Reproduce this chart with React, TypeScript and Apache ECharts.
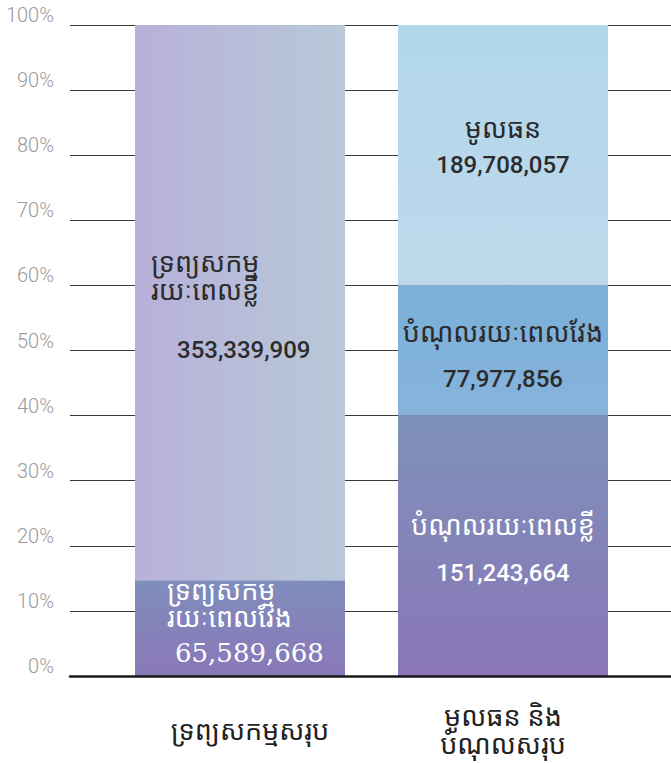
import React, { useEffect, useRef } from "react";
import * as echarts from "echarts";

const categories = ["ទ្រព្យសកម្មសរុប", "មូលធន និង\nបំណុលសរុប"];
// shares of each bar (percent)
const assetShares = [14.7, 85.3]; // long-term, short-term
const fundingShares = [40, 20, 40]; // short-term liabilities, long-term liabilities, equity
const assetNames = ["ទ្រព្យសកម្ម\nរយៈពេលវែង", "ទ្រព្យសកម្ម\nរយៈពេលខ្លី"];
const assetValues = [65589668, 353339909];
const fundingNames = ["បំណុលរយៈពេលខ្លី", "បំណុលរយៈពេលវែង", "មូលធន"];
const fundingValues = [151243664, 77977856, 189708057];
const yTicks = [0, 10, 20, 30, 40, 50, 60, 70, 80, 90, 100];

const KH = "'Noto Sans Khmer', 'Khmer OS', 'Noto Sans', Roboto, sans-serif";
const NUM = "Roboto, 'Noto Sans', sans-serif";
const KS = 27;
const fmt = (v: number) => v.toLocaleString("en-US");

const vgrad = (a: string, b: string) =>
  new echarts.graphic.LinearGradient(0, 0, 0, 1, [
    { offset: 0, color: a },
    { offset: 1, color: b },
  ]);
const hgrad = (a: string, b: string) =>
  new echarts.graphic.LinearGradient(0, 0, 1, 0, [
    { offset: 0, color: a },
    { offset: 1, color: b },
  ]);

export default function App() {
  const ref = useRef<HTMLDivElement>(null);
  useEffect(() => {
    if (!ref.current) return;
    const chart = echarts.init(ref.current, null, { renderer: "svg" });

    const s0 = [
      {
        value: assetShares[0],
        itemStyle: { color: vgrad("#7f8dbc", "#8a78b8") },
        label: {
          show: true,
          position: [32, -4],
          align: "left",
          verticalAlign: "top",
          formatter: () =>
            assetNames[0]
              .split("\n")
              .map((l) => `{k|${l}}`)
              .join("\n") + `\n{n|${fmt(assetValues[0])}}`,
          rich: {
            k: { fontFamily: KH, fontSize: KS, lineHeight: 27, color: "#ffffff" },
            n: {
              fontFamily: "'DejaVu Serif', serif",
              fontSize: 26,
              lineHeight: 46,
              color: "#ffffff",
              padding: [0, 0, 0, 8],
            },
          },
        },
      },
      {
        value: fundingShares[0],
        itemStyle: { color: vgrad("#7e91b9", "#8a76b8") },
        label: {
          show: true,
          position: [105, 84],
          align: "center",
          verticalAlign: "top",
          formatter: () => `{k|${fundingNames[0]}}\n{n|${fmt(fundingValues[0])}}`,
          rich: {
            k: { fontFamily: KH, fontSize: KS, lineHeight: 49, color: "#ffffff" },
            n: { fontFamily: NUM, fontSize: 24, fontWeight: 500, lineHeight: 49, color: "#ffffff" },
          },
        },
      },
    ];
    const s1 = [
      {
        value: assetShares[1],
        itemStyle: { color: hgrad("#b8b0da", "#b7c9d8") },
        label: {
          show: true,
          position: [16, 222],
          align: "left",
          verticalAlign: "top",
          formatter: () =>
            assetNames[1]
              .split("\n")
              .map((l) => `{k|${l}}`)
              .join("\n") + `\n{n|${fmt(assetValues[1])}}`,
          rich: {
            k: { fontFamily: KH, fontSize: KS, lineHeight: 28, color: "#2b2b2b" },
            n: {
              fontFamily: NUM,
              fontSize: 24,
              fontWeight: 500,
              lineHeight: 94,
              color: "#2b2b2b",
              padding: [0, 0, 0, 26],
            },
          },
        },
      },
      {
        value: fundingShares[1],
        itemStyle: { color: vgrad("#7ab0d9", "#86b3db") },
        label: {
          show: true,
          position: [105, 22],
          align: "center",
          verticalAlign: "top",
          formatter: () => `{k|${fundingNames[1]}}\n{n|${fmt(fundingValues[1])}}`,
          rich: {
            k: { fontFamily: KH, fontSize: KS, lineHeight: 48, color: "#2b2b2b" },
            n: { fontFamily: NUM, fontSize: 24, fontWeight: 500, lineHeight: 48, color: "#2b2b2b" },
          },
        },
      },
    ];
    const s2 = [
      "-",
      {
        value: fundingShares[2],
        itemStyle: { color: vgrad("#b1d7eb", "#bfd8eb") },
        label: {
          show: true,
          position: [105, 83],
          align: "center",
          verticalAlign: "top",
          formatter: () => `{k|${fundingNames[2]}}\n{n|${fmt(fundingValues[2])}}`,
          rich: {
            k: { fontFamily: KH, fontSize: KS, lineHeight: 38, color: "#2b2b2b" },
            n: { fontFamily: NUM, fontSize: 24, fontWeight: 500, lineHeight: 38, color: "#2b2b2b" },
          },
        },
      },
    ];

    chart.setOption({
      animation: false,
      backgroundColor: "#ffffff",
      grid: [
        { left: 108.5, width: 526, top: 25, bottom: 87 },
        { left: 70, right: 0, top: 25, bottom: 87 },
      ],
      xAxis: [
        {
          type: "category",
          gridIndex: 0,
          data: categories,
          axisLine: { show: false },
          axisTick: { show: false },
          axisLabel: {
            margin: 53,
            verticalAlign: "middle",
            formatter: (v: string, i: number) =>
              v
                .split("\n")
                .map((l) => (i === 0 ? `{a|${l}}` : `{b|${l}}`))
                .join("\n"),
            rich: {
              a: { fontFamily: KH, fontSize: KS, lineHeight: 28, color: "#222", padding: [0, 0, 0, 20] },
              b: { fontFamily: KH, fontSize: KS, lineHeight: 28, color: "#222" },
            },
          },
        },
        {
          type: "value",
          gridIndex: 1,
          min: 0,
          max: 1,
          z: 5,
          axisLine: { show: true, onZero: false, lineStyle: { color: "#1a1a1a", width: 2.5 } },
          axisTick: { show: false },
          axisLabel: { show: false },
          splitLine: { show: false },
        },
      ],
      yAxis: [
        { type: "value", gridIndex: 0, min: 0, max: 100, show: false },
        {
          type: "value",
          gridIndex: 1,
          min: 0,
          max: 100,
          interval: 10,
          axisLine: { show: false },
          axisTick: { show: false },
          splitLine: { show: true, lineStyle: { color: "#3a3a3a", width: 1 } },
          axisLabel: {
            margin: 16,
            verticalAlign: "bottom",
            fontFamily: NUM,
            fontSize: 20,
            fontWeight: 300,
            color: "#9a9a9a",
            formatter: (v: number) => (yTicks.includes(v) ? `${v}%` : ""),
          },
        },
      ],
      series: [
        { type: "bar", stack: "a", xAxisIndex: 0, yAxisIndex: 0, barWidth: 210, data: s0, z: 3 },
        { type: "bar", stack: "a", xAxisIndex: 0, yAxisIndex: 0, barWidth: 210, data: s1, z: 3 },
        { type: "bar", stack: "a", xAxisIndex: 0, yAxisIndex: 0, barWidth: 210, data: s2, z: 3 },
      ],
    });
    return () => chart.dispose();
  }, []);
  return (
    <div
      ref={ref}
      style={{ position: "fixed", left: 0, top: 0, width: 671, height: 763, background: "#fff" }}
    />
  );
}
